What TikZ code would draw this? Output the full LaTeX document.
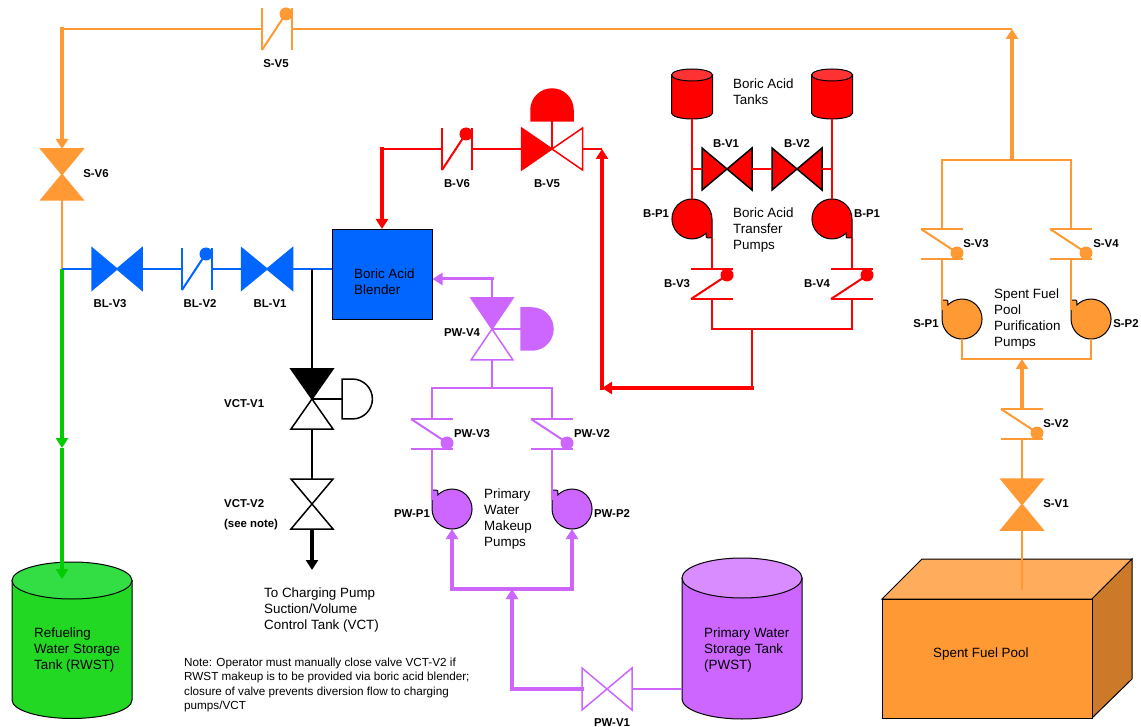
\documentclass[tikz,border=0pt]{standalone}
\usepackage{fontspec}
\setmainfont{Liberation Sans}
\usetikzlibrary{arrows.meta}

\definecolor{orangepipe}{HTML}{FF9933}
\definecolor{orangetop}{HTML}{FFAD5C}
\definecolor{orangeside}{HTML}{CC7A29}
\definecolor{bluepipe}{HTML}{0066FF}
\definecolor{redpipe}{HTML}{FF0000}
\definecolor{redtop}{HTML}{FF3333}
\definecolor{purplepipe}{HTML}{CC66FF}
\definecolor{purpletop}{HTML}{D98CFF}
\definecolor{greenpipe}{HTML}{00CC00}
\definecolor{greenbody}{HTML}{22D822}
\definecolor{greentop}{HTML}{33DD44}

\tikzset{
    every pic/.style={line width=1.5pt},
    pipe/.style={line width=2pt},
    mainpipe/.style={line width=3.5pt,-{Triangle[width=12pt,length=10pt]}},
    cornerpipe/.style={mainpipe,line cap=rect},
    widepipe/.style={line width=3.5pt,line cap=rect},
    tag/.style={font=\fontsize{11.4}{13}\selectfont\bfseries,inner sep=0pt,yshift=-.8pt},
    lefttag/.style={tag,anchor=west},
    plaintxt/.style={font=\fontsize{13.4}{16}\selectfont,align=left,anchor=west,inner sep=0pt,yshift=-1.2pt},
    notetxt/.style={font=\fontsize{11.7}{14.4}\selectfont,align=left,anchor=west,inner sep=0pt,yshift=-1.5pt},
    pics/bowtie/.style n args={4}{code={
        \draw[#2,fill=#3] (-#1,-21) -- (0,0) -- (-#1,21) -- cycle;
        \draw[#2,fill=#4] (#1,-21) -- (0,0) -- (#1,21) -- cycle;
        \coordinate (-a) at (-#1,0);
        \coordinate (-b) at (#1,0);
        \coordinate (-c) at (0,0);
    }},
    pics/checkvalve/.style={code={
        \draw[#1,line width=2pt] (-15,-21) -- (-15,21);
        \draw[#1,line width=2pt] (15,-21) -- (15,21);
        \draw[#1,line width=2pt] (-15,21) -- (8,-14);
        \fill[#1] (9,-15) circle[radius=6.5pt];
        \coordinate (-a) at (-15,0);
        \coordinate (-b) at (15,0);
    }},
    pics/pump/.style={code={
        \draw[black,line width=1pt,fill=#1]
        (-20,0) -- (-20,-19) -- (-14.3,-18.7) -- (-14.1,-14.1)
        arc[start angle=135,end angle=-180,radius=20pt] -- cycle;
        \coordinate (-out) at (-20,-19);
        \coordinate (-side) at (-20,-9);
        \coordinate (-in) at (0,20);
    }},
    pics/actuator/.style n args={2}{code={
        \draw[#1,fill=#2] (0,-21) -- (11,-21)
        arc[start angle=90,end angle=-90,radius=21pt] -- (0,21) -- cycle;
        \coordinate (-a) at (0,0);
    }},
    pics/drum/.style n args={5}{code={
        \draw[black,line width=1pt,fill=#4]
        (-#1,0) -- (-#1,#3) arc[start angle=180,end angle=360,x radius=#1pt,y radius=#2pt] -- (#1,0) -- cycle;
        \draw[black,line width=1pt,fill=#5] (0,0) ellipse[x radius=#1pt,y radius=#2pt];
        \coordinate (-l) at (-#1,0);
        \coordinate (-bot) at (0,#3+#2);
    }},
}

\begin{document}
\begin{tikzpicture}[x=1pt,y=-1pt]
    \useasboundingbox (0,0) rectangle (1141,727);

    % tanks and pool
    \pic (rwst) at (72,580.5) {drum={60}{18.5}{119.5}{greenbody}{greentop}};
    \pic (pwst) at (742,578) {drum={60}{20}{121}{purplepipe}{purpletop}};
    \pic (bt1) at (692,75) {drum={20.5}{6}{38}{redpipe}{redtop}};
    \pic (bt2) at (832,75) {drum={20.5}{6}{38}{redpipe}{redtop}};
    \draw[black,line width=1pt,fill=orangetop]
    (882,599) -- (922,559) -- (1132,559) -- (1092,599) -- cycle
    ;
    \draw[black,line width=1pt,fill=orangeside]
    (1092,599) -- (1132,559) -- (1132,679) -- (1092,718) -- cycle
    ;
    \draw[black,line width=1pt,fill=orangepipe]
    (882,599) rectangle (1092,718)
    ;
    \node[draw=black,line width=1pt,fill=bluepipe,minimum width=100pt,minimum height=90pt,inner sep=0pt] (blender) at (382,274.5) {};

    % valves
    \pic (sv5) at (277,29) {checkvalve=orangepipe};
    \pic[rotate=-90] (sv6) at (62,174.5) {bowtie={25.5}{orangepipe}{orangepipe}{orangepipe}};
    \pic[rotate=-90] (sv3) at (942,244) {checkvalve=orangepipe};
    \pic[rotate=-90] (sv4) at (1071,244) {checkvalve=orangepipe};
    \pic[rotate=-90] (sv2) at (1022,424) {checkvalve=orangepipe};
    \pic[rotate=-90] (sv1) at (1022,504.5) {bowtie={25.5}{orangepipe}{orangepipe}{orangepipe}};
    \pic (blv3) at (117,269) {bowtie={25}{bluepipe}{bluepipe}{bluepipe}};
    \pic (blv2) at (197,269) {checkvalve=bluepipe};
    \pic (blv1) at (267,269) {bowtie={25.5}{bluepipe}{bluepipe}{bluepipe}};
    \pic (bv6) at (457,149) {checkvalve=redpipe};
    \pic (bv5) at (552,149) {bowtie={30.5}{redpipe}{redpipe}{white}};
    \pic[rotate=90] (bv5act) at (552,121) {actuator={redpipe}{redpipe}};
    \pic[line width=1pt] (bv1) at (727,169) {bowtie={25}{black}{redpipe}{redpipe}};
    \pic[line width=1pt] (bv2) at (797,169) {bowtie={25}{black}{redpipe}{redpipe}};
    \pic[rotate=-90,xscale=-1] (bv3) at (712,284) {checkvalve=redpipe};
    \pic[rotate=-90,xscale=-1] (bv4) at (852,284) {checkvalve=redpipe};
    \pic[rotate=-90] (pwv4) at (492,329) {bowtie={31}{purplepipe}{purplepipe}{white}};
    \pic (pwv4act) at (521,329) {actuator={purplepipe}{purplepipe}};
    \pic[rotate=-90] (pwv3) at (432,434) {checkvalve=purplepipe};
    \pic[rotate=-90] (pwv2) at (552,434) {checkvalve=purplepipe};
    \pic (pwv1) at (607,689) {bowtie={25}{purplepipe}{white}{white}};
    \pic[rotate=-90] (vctv1) at (312,399) {bowtie={30}{black}{black}{white}};
    \pic[xscale=.95,yscale=.95] (vctact) at (342,399) {actuator={black}{white}};
    \pic[rotate=-90] (vctv2) at (312,504) {bowtie={25}{black}{white}{white}};

    % pumps
    \pic (sp1) at (962,319) {pump=orangepipe};
    \pic (sp2) at (1091,319) {pump=orangepipe};
    \pic[rotate=180] (bp1) at (692,219) {pump=redpipe};
    \pic[rotate=180] (bp2) at (832,219) {pump=redpipe};
    \pic (pwp1) at (452,509) {pump=purplepipe};
    \pic (pwp2) at (572,509) {pump=purplepipe};

    % junction points
    \coordinate (stopleft) at (62,29);
    \coordinate (stopright) at (1012,29);
    \coordinate (sjoin) at (1012,160);
    \coordinate (sbot) at (1022,359);
    \coordinate (spool) at (1022,590);
    \coordinate (rwjoin) at (62,269);
    \coordinate (rwmid) at (62,448);
    \coordinate (rwin) at (62,579);
    \coordinate (rtop) at (602,149);
    \coordinate (rhook) at (602,388);
    \coordinate (rcorner) at (752,388);
    \coordinate (rbot) at (752,329);
    \coordinate (pwtop) at (492,279);
    \coordinate (pwsplit) at (492,388);
    \coordinate (pwjoin) at (512,589);
    \coordinate (pwcorner) at (512,689);
    \coordinate (vctin) at (312,269);
    \coordinate (vctend) at (312,570);

    % orange
    \draw[pipe,orangepipe]
    (sv5-a) -- (stopleft)
    ;
    \draw[pipe,orangepipe]
    (sv5-b) -- (stopright)
    ;
    \draw[cornerpipe,orangepipe]
    (stopleft) -- (sv6-a)
    ;
    \draw[mainpipe,orangepipe]
    (sjoin) -- (stopright)
    ;
    \draw[pipe,orangepipe]
    (sv3-a) -- (sv3-a |- sjoin) -- (sv4-a |- sjoin) -- (sv4-a)
    ;
    \draw[pipe,orangepipe]
    (sv3-b) -- (sp1-side)
    ;
    \draw[pipe,orangepipe]
    (sv4-b) -- (sp2-side)
    ;
    \draw[pipe,orangepipe]
    (sp1-in) -- (sp1-in |- sbot) -- (sp2-in |- sbot) -- (sp2-in)
    ;
    \draw[mainpipe,orangepipe]
    (sv2-a) -- (sbot)
    ;
    \draw[pipe,orangepipe]
    (sv2-b) -- (sv1-a)
    ;
    \draw[pipe,orangepipe]
    (sv1-b) -- (spool)
    ;
    \draw[pipe,orangepipe]
    (sv6-b) -- (rwjoin)
    ;

    % green
    \draw[mainpipe,greenpipe]
    (rwjoin) -- (rwmid)
    ;
    \draw[mainpipe,greenpipe]
    (rwmid) -- (rwin)
    ;

    % blue
    \draw[pipe,bluepipe]
    (rwjoin) -- (blv3-a)
    ;
    \draw[pipe,bluepipe]
    (blv3-b) -- (blv2-a)
    ;
    \draw[pipe,bluepipe]
    (blv2-b) -- (blv1-a)
    ;
    \draw[pipe,bluepipe]
    (blv1-b) -- (blv1-b -| blender.west)
    ;

    % black
    \draw[pipe,black]
    (vctin) -- (vctv1-a)
    ;
    \draw[pipe,black]
    (vctv1-b) -- (vctv2-a)
    ;
    \draw[pipe,black]
    (vctv1-c) -- (vctact-a)
    ;
    \draw[mainpipe,black]
    (vctv2-b) -- (vctend)
    ;

    % red
    \draw[pipe,redpipe]
    (bv6-a) -- (bv6-a -| blender.north)
    ;
    \draw[cornerpipe,redpipe]
    (bv6-a -| blender.north) -- (blender.north)
    ;
    \draw[pipe,redpipe]
    (bv6-b) -- (bv5-a)
    ;
    \draw[pipe,redpipe]
    (bv5-c) -- (bv5act-a)
    ;
    \draw[pipe,redpipe]
    (bv5-b) -- (rtop)
    ;
    \draw[cornerpipe,redpipe]
    (rhook) -- (rtop)
    ;
    \draw[cornerpipe,redpipe]
    (rcorner) -- (rhook)
    ;
    \draw[pipe,redpipe]
    (rbot) -- (rcorner)
    ;
    \draw[pipe,redpipe]
    (bv3-a) -- (bv3-a |- rbot) -- (bv4-a |- rbot) -- (bv4-a)
    ;
    \draw[pipe,redpipe]
    (bp1-out) -- (bv3-b)
    ;
    \draw[pipe,redpipe]
    (bp2-out) -- (bv4-b)
    ;
    \draw[pipe,redpipe]
    (bt1-bot) -- (bp1-in)
    ;
    \draw[pipe,redpipe]
    (bt2-bot) -- (bp2-in)
    ;
    \draw[pipe,redpipe]
    (bt1-bot |- bv1-a) -- (bv1-a)
    ;
    \draw[pipe,redpipe]
    (bv1-b) -- (bv2-a)
    ;
    \draw[pipe,redpipe]
    (bv2-b) -- (bt2-bot |- bv2-b)
    ;

    % purple
    \draw[pipe,purplepipe]
    (pwv4-a) -- (pwtop)
    ;
    \draw[line width=3pt,line cap=rect,purplepipe,-{Triangle[width=12pt,length=10pt]}]
    (pwtop) -- (pwtop -| blender.east)
    ;
    \draw[pipe,purplepipe]
    (pwv4-c) -- (pwv4act-a)
    ;
    \draw[pipe,purplepipe]
    (pwv4-b) -- (pwsplit)
    ;
    \draw[pipe,purplepipe]
    (pwv3-a) -- (pwv3-a |- pwsplit) -- (pwv2-a |- pwsplit) -- (pwv2-a)
    ;
    \draw[pipe,purplepipe]
    (pwv3-b) -- (pwp1-side)
    ;
    \draw[pipe,purplepipe]
    (pwv2-b) -- (pwp2-side)
    ;
    \draw[widepipe,purplepipe]
    (pwp1-in |- pwjoin) -- (pwp2-in |- pwjoin)
    ;
    \draw[cornerpipe,purplepipe]
    (pwp1-in |- pwjoin) -- (pwp1-in)
    ;
    \draw[cornerpipe,purplepipe]
    (pwp2-in |- pwjoin) -- (pwp2-in)
    ;
    \draw[cornerpipe,purplepipe]
    (pwcorner) -- (pwjoin)
    ;
    \draw[widepipe,purplepipe]
    (pwcorner) -- (pwv1-a)
    ;
    \draw[line width=2.5pt,purplepipe]
    (pwv1-b) -- (pwv1-b -| pwst-l)
    ;

    % valve and pump labels
    \node[tag] (lsv5) at (276,63) {S-V5};
    \node[tag] (lsv6) at (96,173) {S-V6};
    \node[tag] (lsv3) at (976,243) {S-V3};
    \node[tag] (lsv4) at (1106,243) {S-V4};
    \node[tag] (lsv2) at (1056,423) {S-V2};
    \node[tag] (lsv1) at (1056,503) {S-V1};
    \node[tag] (lsp1) at (926,323) {S-P1};
    \node[tag] (lsp2) at (1126,323) {S-P2};
    \node[tag] (lblv3) at (110,303) {BL-V3};
    \node[tag] (lblv2) at (200,303) {BL-V2};
    \node[tag] (lblv1) at (270,303) {BL-V1};
    \node[tag] (lbv6) at (457,183) {B-V6};
    \node[tag] (lbv5) at (547,183) {B-V5};
    \node[tag] (lbv1) at (726,143) {B-V1};
    \node[tag] (lbv2) at (797,143) {B-V2};
    \node[tag] (lbv3) at (677,283) {B-V3};
    \node[tag] (lbv4) at (817,283) {B-V4};
    \node[tag] (lbp1) at (656,213) {B-P1};
    \node[tag] (lbp2) at (867,213) {B-P1};
    \node[tag] (lpwv4) at (462,332) {PW-V4};
    \node[tag] (lpwv3) at (472,433) {PW-V3};
    \node[tag] (lpwv2) at (592,433) {PW-V2};
    \node[tag] (lpwv1) at (612,722) {PW-V1};
    \node[tag] (lpwp1) at (412,513) {PW-P1};
    \node[tag] (lpwp2) at (612,513) {PW-P2};
    \node[lefttag] (lvctv1) at (224,403) {VCT-V1};
    \node[lefttag] (lvctv2) at (224,503) {VCT-V2};
    \node[lefttag] (lsee) at (224,524) {(see note)};

    % equipment names
    \node[plaintxt] (tblender) at (354,281) {Boric Acid\\Blender};
    \node[plaintxt] (ttanks) at (733,91) {Boric Acid\\Tanks};
    \node[plaintxt] (ttransfer) at (733,229) {Boric Acid\\Transfer\\Pumps};
    \node[plaintxt] (tspent) at (994,318) {Spent Fuel\\Pool\\Purification\\Pumps};
    \node[plaintxt] (tprimary) at (484,518) {Primary\\Water\\Makeup\\Pumps};
    \node[plaintxt] (tcharging) at (264,609) {To Charging Pump\\Suction/Volume\\Control Tank (VCT)};
    \node[plaintxt] (trwst) at (34,649) {Refueling\\Water Storage\\Tank (RWST)};
    \node[plaintxt] (tpwst) at (704,649) {Primary Water\\Storage Tank\\(PWST)};
    \node[plaintxt] (tpool) at (933,653) {Spent Fuel Pool};
    \node[notetxt] (tnote) at (184,683.5) {Note: Operator must manually close valve VCT-V2 if\\RWST makeup is to be provided via boric acid blender;\\closure of valve prevents diversion flow to charging\\pumps/VCT};
\end{tikzpicture}
\end{document}
